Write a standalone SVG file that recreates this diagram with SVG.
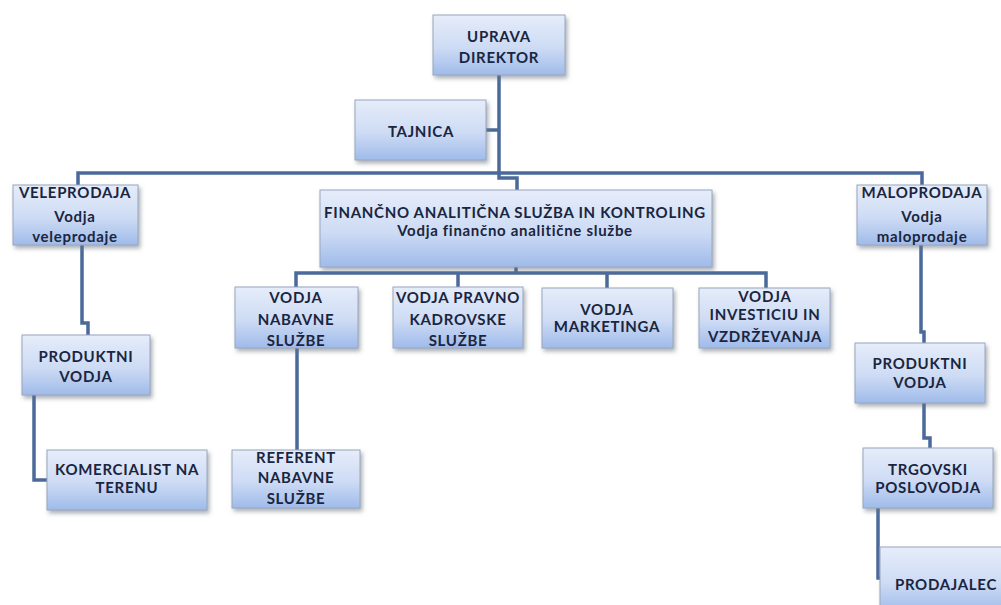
<svg xmlns="http://www.w3.org/2000/svg" width="1001" height="605" viewBox="0 0 1001 605">
  <defs>
    <linearGradient id="boxFill" x1="0" y1="0" x2="0" y2="1">
      <stop offset="0" stop-color="#e6edfa"/>
      <stop offset="0.55" stop-color="#cddbf4"/>
      <stop offset="1" stop-color="#9fbbea"/>
    </linearGradient>
    <filter id="shadow" x="-10%" y="-10%" width="125%" height="130%">
      <feDropShadow dx="2" dy="3" stdDeviation="2" flood-color="#6b7280" flood-opacity="0.55"/>
    </filter>
  </defs>
  <style>
    .box { fill: url(#boxFill); stroke: #98a6bd; stroke-width: 1; filter: url(#shadow); }
    .lbl { font-family: Lato, "Open Sans", "Liberation Sans", sans-serif; font-weight: bold; font-size: 15px; letter-spacing: 0.7px; fill: #1a2540; text-anchor: middle; }
    .conn { fill: none; stroke: #4b6a9b; stroke-width: 3.5; stroke-linejoin: miter; }
  </style>
  <rect width="1001" height="605" fill="#ffffff"/>

  <!-- connectors -->
  <g id="connectors" class="conn">
    <path d="M499,75 V178 H517 V190"/>
    <path d="M486,130 H499"/>
    <path d="M78,185 V173 H922 V185"/>
    <path d="M516,267 V273"/>
    <path d="M296,287 V273 H766 V288"/>
    <path d="M458,273 V287"/>
    <path d="M607,273 V288"/>
    <path d="M297,348 V450"/>
    <path d="M82,245 V323 H88 V335"/>
    <path d="M34,395 V480 H47"/>
    <path d="M921,245 V332 H924 V343"/>
    <path d="M924,403 V438 H930 V448"/>
    <path d="M878,508 V578 H881"/>
  </g>

  <!-- nodes -->
  <g id="uprava">
    <rect class="box" x="433" y="15" width="132" height="60"/>
    <text class="lbl" x="499" y="42">UPRAVA</text>
    <text class="lbl" x="499" y="63">DIREKTOR</text>
  </g>
  <g id="tajnica">
    <rect class="box" x="355" y="100" width="131" height="60"/>
    <text class="lbl" x="421" y="137">TAJNICA</text>
  </g>
  <g id="veleprodaja">
    <rect class="box" x="13" y="185" width="125" height="60"/>
    <text class="lbl" x="75" y="198">VELEPRODAJA</text>
    <text class="lbl" x="75" y="222">Vodja</text>
    <text class="lbl" x="75" y="242">veleprodaje</text>
  </g>
  <g id="financno">
    <rect class="box" x="320" y="190" width="392" height="77"/>
    <text class="lbl" x="515" y="218">FINANČNO ANALITIČNA SLUŽBA IN KONTROLING</text>
    <text class="lbl" x="515" y="236">Vodja finančno analitične službe</text>
  </g>
  <g id="maloprodaja">
    <rect class="box" x="857" y="185" width="130" height="60"/>
    <text class="lbl" x="922" y="198">MALOPRODAJA</text>
    <text class="lbl" x="922" y="222">Vodja</text>
    <text class="lbl" x="922" y="242">maloprodaje</text>
  </g>
  <g id="vodja-nabavne">
    <rect class="box" x="235" y="287" width="123" height="61"/>
    <text class="lbl" x="296" y="303">VODJA</text>
    <text class="lbl" x="296" y="325">NABAVNE</text>
    <text class="lbl" x="296" y="346">SLUŽBE</text>
  </g>
  <g id="vodja-pravno">
    <rect class="box" x="393" y="287" width="130" height="61"/>
    <text class="lbl" x="458" y="303">VODJA PRAVNO</text>
    <text class="lbl" x="458" y="325">KADROVSKE</text>
    <text class="lbl" x="458" y="346">SLUŽBE</text>
  </g>
  <g id="vodja-marketinga">
    <rect class="box" x="542" y="288" width="131" height="60"/>
    <text class="lbl" x="607" y="315">VODJA</text>
    <text class="lbl" x="607" y="332">MARKETINGA</text>
  </g>
  <g id="vodja-investicij">
    <rect class="box" x="699" y="288" width="131" height="60"/>
    <text class="lbl" x="765" y="302">VODJA</text>
    <text class="lbl" x="765" y="320">INVESTICIU IN</text>
    <text class="lbl" x="765" y="342">VZDRŽEVANJA</text>
  </g>
  <g id="produktni-vodja-vp">
    <rect class="box" x="22" y="335" width="128" height="60"/>
    <text class="lbl" x="86" y="362">PRODUKTNI</text>
    <text class="lbl" x="86" y="382">VODJA</text>
  </g>
  <g id="komercialist">
    <rect class="box" x="47" y="450" width="160" height="60"/>
    <text class="lbl" x="127" y="475">KOMERCIALIST NA</text>
    <text class="lbl" x="127" y="493">TERENU</text>
  </g>
  <g id="referent">
    <rect class="box" x="232" y="450" width="128" height="58"/>
    <text class="lbl" x="296" y="463">REFERENT</text>
    <text class="lbl" x="296" y="483">NABAVNE</text>
    <text class="lbl" x="296" y="504">SLUŽBE</text>
  </g>
  <g id="produktni-vodja-mp">
    <rect class="box" x="855" y="343" width="130" height="60"/>
    <text class="lbl" x="920" y="369">PRODUKTNI</text>
    <text class="lbl" x="920" y="388">VODJA</text>
  </g>
  <g id="trgovski">
    <rect class="box" x="863" y="448" width="130" height="60"/>
    <text class="lbl" x="928" y="475">TRGOVSKI</text>
    <text class="lbl" x="928" y="493">POSLOVODJA</text>
  </g>
  <g id="prodajalec">
    <rect class="box" x="880" y="547" width="130" height="66"/>
    <text class="lbl" x="946" y="590">PRODAJALEC</text>
  </g>
</svg>
